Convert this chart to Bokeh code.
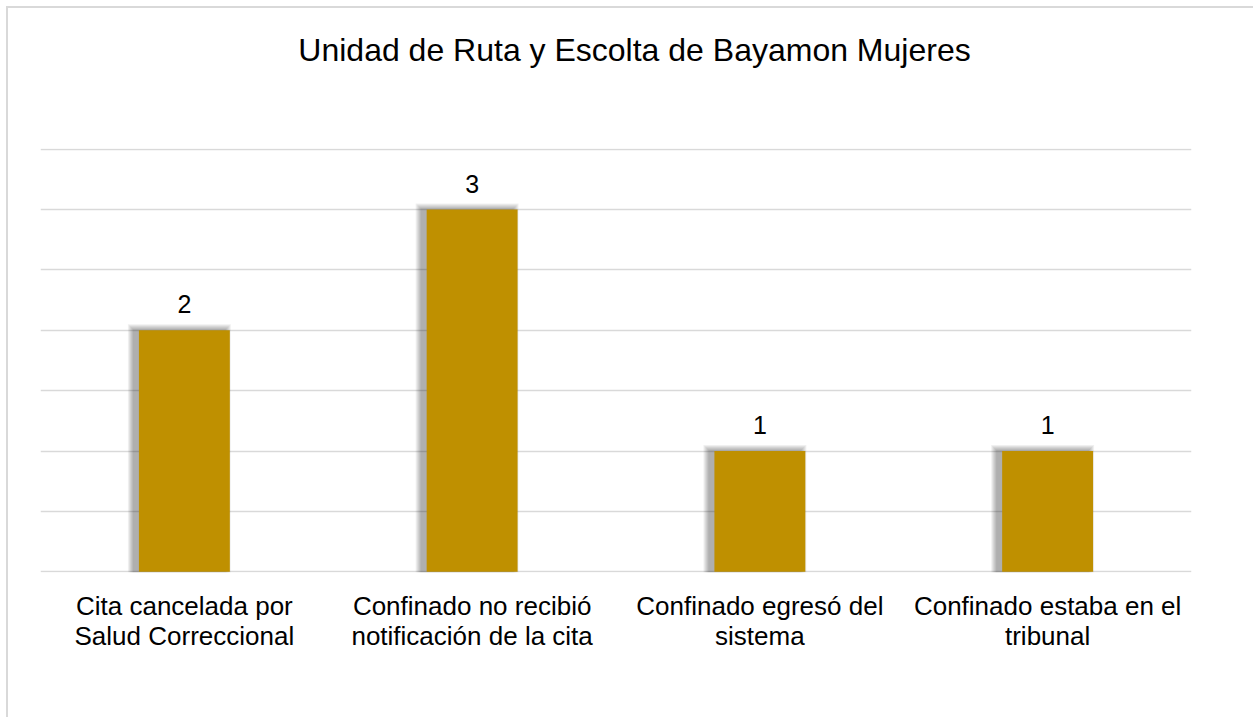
from bokeh.plotting import figure
from bokeh.models import FixedTicker, ColumnDataSource, Div
from bokeh.layouts import column
from bokeh.transform import dodge
from bokeh.core.properties import value
from bokeh.embed import file_html
from bokeh.resources import INLINE

title_text = "Unidad de Ruta y Escolta de Bayamon Mujeres"
categories = [
    "Cita cancelada por\nSalud Correccional",
    "Confinado no recibió\nnotificación de la cita",
    "Confinado egresó del\nsistema",
    "Confinado estaba en el\ntribunal",
]
values = [2, 3, 1, 1]
value_labels = ["2", "3", "1", "1"]
grid_ticks = [0, 0.5, 1, 1.5, 2, 2.5, 3, 3.5]

FONT = "Liberation Sans"
BAR = "#BF9000"

title_div = Div(text=title_text, width=1243, height=74,
                styles={"font-family": FONT, "font-size": "32px", "color": "#000000",
                        "text-align": "center", "line-height": "74px",
                        "width": "1243px", "white-space": "nowrap"})

p = figure(
    x_range=categories, y_range=(-0.006, 3.506),
    width=1243, height=628,
    output_backend="svg", toolbar_location=None,
    min_border_left=32, min_border_right=60,
    min_border_top=56, min_border_bottom=148,
)

src = ColumnDataSource(dict(cat=categories, val=values, lab=value_labels))

px_x = 1.0 / 287.75
px_y = 3.5 / 424.0
# soft shadow layers (offset to the left)
for i in range(6):
    sh = ColumnDataSource(dict(cat=categories,
                               top=[v + (i + 1) * px_y for v in values],
                               bottom=[-(i + 1) * px_y for v in values]))
    p.vbar(x=dodge("cat", -5 * px_x, range=p.x_range), top="top", bottom="bottom",
           width=0.316 + 2 * (i + 1) * px_x, source=sh,
           fill_color="#000000", fill_alpha=0.06, line_color=None)

p.vbar(x="cat", top="val", width=0.316, source=src, fill_color=BAR, line_color=None)

p.text(x="cat", y="val", text="lab", source=src, y_offset=-26,
       text_align="center", text_baseline="alphabetic",
       text_font=value(FONT), text_font_size="25px", text_color="#000000")

p.yaxis.visible = False
p.ygrid.ticker = FixedTicker(ticks=grid_ticks)
p.ygrid.grid_line_color = "#d9d9d9"
p.ygrid.grid_line_width = 1.5
p.xgrid.grid_line_color = None
p.outline_line_color = None

p.xaxis.axis_line_color = None
p.xaxis.major_tick_line_color = None
p.xaxis.minor_tick_line_color = None
p.xaxis.major_label_text_font = FONT
p.xaxis.major_label_text_font_size = "26px"
p.xaxis.major_label_text_color = "#000000"
p.xaxis.major_label_text_line_height = 1.0
p.xaxis.major_label_standoff = 12
p.xaxis.major_label_orientation = "horizontal"

layout = column(title_div, p, spacing=0,
                styles={"border-left": "2px solid #d9d9d9", "border-top": "2px solid #d9d9d9",
                        "margin-left": "6px", "margin-top": "6px", "background": "#ffffff"})

open("out.html", "w").write(file_html(layout, INLINE))
